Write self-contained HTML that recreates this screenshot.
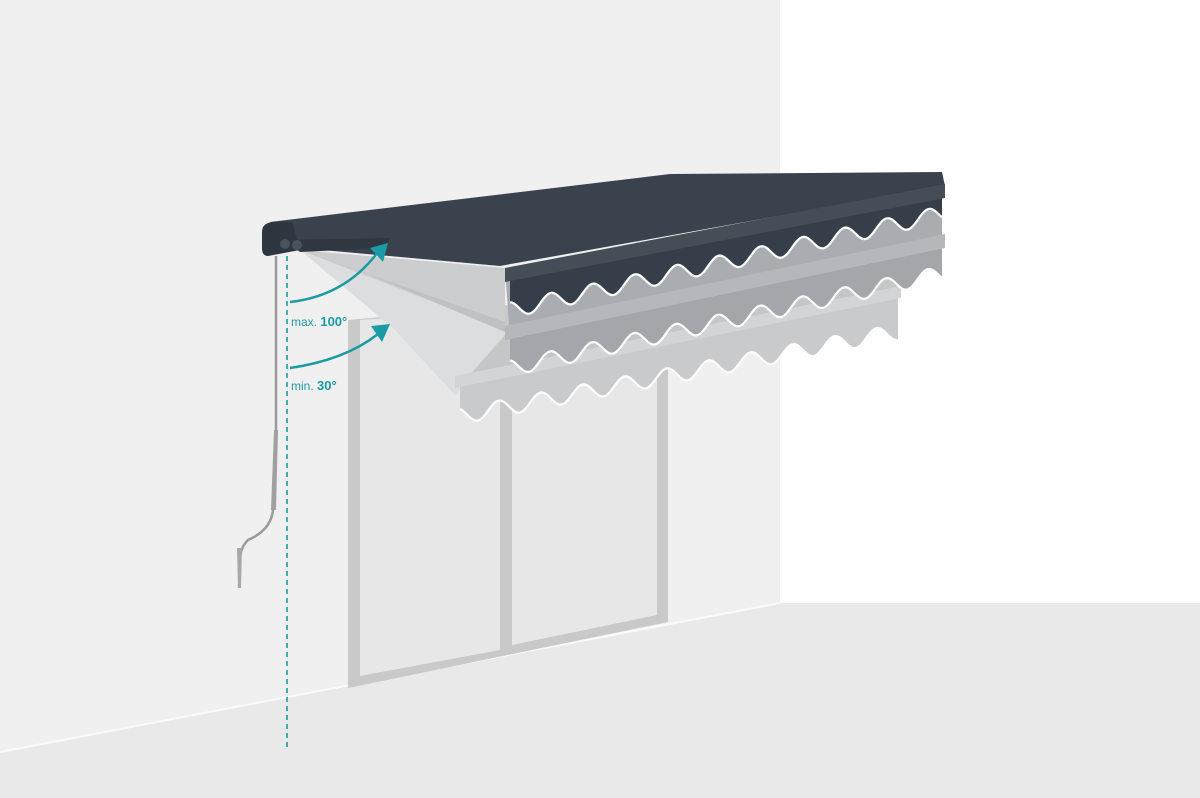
<!DOCTYPE html>
<html><head><meta charset="utf-8"><style>
html,body{margin:0;padding:0;width:1200px;height:798px;overflow:hidden;background:#fff}
svg{display:block}
text{font-family:"Liberation Sans",sans-serif;fill:#1a9ba5}
</style></head><body>
<svg id="s" width="1200" height="798" viewBox="0 0 1200 798" xmlns="http://www.w3.org/2000/svg">
<rect x="0" y="0" width="1200" height="798" fill="#e9e9e9"/>
<polygon points="0,0 780,0 780,603 0,752" fill="#f0f0f0"/>
<polygon points="780,0 1200,0 1200,603 780,603" fill="#ffffff"/>
<line x1="0" y1="752" x2="780" y2="603" stroke="#fafafa" stroke-width="2"/>
<polygon points="348,320 668,290 668,622 348,688" fill="#c9c9c9"/>
<polygon points="360,320 500,310 500,650 360,676" fill="#e7e7e7"/>
<polygon points="512,310 657,300 657,615 512,645" fill="#e7e7e7"/>
<polygon points="300,250 505,268 505,345 470,380 455,395 395,330" fill="#dcdddf"/>
<polygon points="300,250 505,268 505,330" fill="#cbcdcf"/>
<polygon points="300,250 505,322 505,332 370,275" fill="#bfc1c4"/>
<polygon points="505,335 898,250 898,296 460,386" fill="#c4c6c8"/>
<g id="aw"></g>
<polygon points="505,270 942,190 942,248 510,338" fill="#a9adb2"/>
<g id="aw1"></g>
<polygon points="270,222 670,174 942,172 945,186 500,266 300,248" fill="#3a434d"/>
<g id="aw2"></g>
<path d="M262,232 Q262,222 275,222 L292,222 L300,250 L268,256 Q262,256 262,248 Z" fill="#2e363f"/>
<polygon points="285,240 390,238 386,248 300,252" fill="#2f3740"/>
<circle cx="285" cy="244" r="5" fill="#4a525c"/>
<circle cx="297" cy="245" r="5" fill="#4a525c"/>
<path d="M276,256 L276,430 L273,510 Q271,530 248,540 Q240,548 240,560 L239,588" fill="none" stroke="#9a9a9a" stroke-width="2.5"/>
<path d="M274,430 L278,430 L276,510 L271,510 Z" fill="#a0a0a0"/>
<path d="M237,548 L242,548 L241,588 L238,588 Z" fill="#a8a8a8"/>
<line x1="287" y1="256" x2="287" y2="750" stroke="#1a9ba5" stroke-width="1.6" stroke-dasharray="5,4"/>
<path d="M290,302 Q345,296 378,252" fill="none" stroke="#1a9ba5" stroke-width="2.5"/>
<polygon points="388,243 370,248 383,262" fill="#1a9ba5"/>
<path d="M290,368 Q345,360 378,334" fill="none" stroke="#1a9ba5" stroke-width="2.5"/>
<polygon points="390,324 371,326 382,342" fill="#1a9ba5"/>
<text x="291" y="326" font-size="12">max. <tspan font-weight="bold" font-size="13">100°</tspan></text>
<text x="291" y="390" font-size="12">min. <tspan font-weight="bold" font-size="13">30°</tspan></text>
</svg>
<script>
function val(g,xL,yL,xR,yR,bL,bR,fill,bar,barH,amp,per,ph){
  var ns="http://www.w3.org/2000/svg";
  var w="";
  for(var x=xR;x>=xL;x-=2){
    var t=(x-xL)/(xR-xL);
    var y=bL+(bR-bL)*t - amp*Math.cos((x-xL)/per*2*Math.PI+ph);
    w+=(w?" L":"M")+x+","+y.toFixed(1);
  }
  var d="M"+xL+","+yL+" L"+xR+","+yR+" L"+w.substring(1)+" Z";
  var p=document.createElementNS(ns,"path");
  p.setAttribute("d",d);p.setAttribute("fill",fill);g.appendChild(p);
  var s=document.createElementNS(ns,"path");
  s.setAttribute("d",w);s.setAttribute("fill","none");s.setAttribute("stroke","#fff");s.setAttribute("stroke-width","2.2");
  g.appendChild(s);
  var b=document.createElementNS(ns,"polygon");
  b.setAttribute("points",(xL-5)+","+(yL-barH+2)+" "+(xR+3)+","+(yR-barH)+" "+(xR+3)+","+(yR+2)+" "+(xL-5)+","+(yL+4));
  b.setAttribute("fill",bar);g.appendChild(b);
}
val(document.getElementById("aw"),460,384,898,296,416,332,"#c8cacc","#d2d4d6",10,8,42,0.5);
val(document.getElementById("aw1"),510,336,942,246,368,274,"#a3a7ac","#b4b7bb",12,8,42,0.3);
val(document.getElementById("aw2"),510,278,942,196,310,214,"#363f49","#454d57",12,8,42,0.2);
</script>
</body></html>
